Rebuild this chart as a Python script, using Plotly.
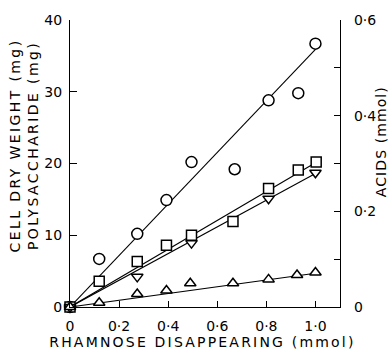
import plotly.graph_objects as go

# ---- data ----
x_circle = [0, 0.119, 0.274, 0.393, 0.495, 0.671, 0.809, 0.930, 1.0]
y_circle = [0, 6.7, 10.2, 14.9, 20.2, 19.2, 28.8, 29.8, 36.7]

x_square = [0, 0.119, 0.274, 0.393, 0.495, 0.664, 0.809, 0.930, 1.003]
y_square = [0, 3.6, 6.35, 8.6, 10.0, 11.9, 16.5, 19.1, 20.2]

x_tdown = [0, 0.274, 0.495, 0.809, 1.0]
y_tdown = [0, 4.2, 8.9, 15.1, 18.7]

x_tup = [0, 0.119, 0.274, 0.393, 0.490, 0.664, 0.809, 0.925, 1.0]
y_tup = [0, 0.6, 1.8, 2.3, 3.3, 3.3, 3.85, 4.45, 4.8]

# fitted lines (endpoints)
fit_x = [0, 1.0]
fit_circle = [0, 35.9]
fit_square = [0, 20.1]
fit_tdown = [0, 18.6]
fit_tup = [0, 4.7]

x_ticks = [0, 0.2, 0.4, 0.6, 0.8, 1.0]
x_ticktext = ["0", "0·2", "0·4", "0·6", "0·8", "1·0"]
y_ticks = [0, 10, 20, 30, 40]
y2_ticks = [0, 0.1, 0.2, 0.3, 0.4, 0.5, 0.6]
y2_ticktext = ["0", "", "0·2", "", "0·4", "", "0·6"]

FONT = "DejaVu Sans"

fig = go.Figure()

for fy in [fit_circle, fit_square, fit_tdown, fit_tup]:
    fig.add_trace(go.Scatter(x=fit_x, y=fy, mode="lines",
                             line=dict(color="black", width=1.1),
                             showlegend=False, hoverinfo="skip"))

def markers(x, y, symbol, size):
    fig.add_trace(go.Scatter(
        x=x, y=y, mode="markers", cliponaxis=False, showlegend=False,
        marker=dict(symbol=symbol, size=size, color="white",
                    line=dict(color="black", width=1.5))))

markers(x_circle, y_circle, "circle", 11)
markers(x_square, y_square, "square", 10)
markers(x_tdown, y_tdown, "triangle-down", 10)
markers(x_tup, y_tup, "triangle-up", 10)

# empty trace to attach the right axis
fig.add_trace(go.Scatter(x=[], y=[], yaxis="y2", showlegend=False))

axis_common = dict(showgrid=False, zeroline=False, showline=True,
                   linecolor="black", linewidth=1.3, ticks="inside",
                   tickcolor="black", tickwidth=1.3,
                   tickfont=dict(family=FONT, size=14, color="black"))

fig.update_layout(
    width=388, height=351,
    margin=dict(l=70, r=47, t=14, b=44),
    paper_bgcolor="white", plot_bgcolor="white",
    xaxis=dict(range=[0, 1.10], tickvals=x_ticks, ticktext=x_ticktext,
               ticklen=6, ticklabelstandoff=6, **axis_common),
    yaxis=dict(range=[0, 40], tickvals=y_ticks, ticklen=7,
               ticklabelstandoff=4, **axis_common),
    yaxis2=dict(range=[0, 0.6], tickvals=y2_ticks, ticktext=y2_ticktext,
                overlaying="y", side="right", ticklen=6,
                ticklabelstandoff=10, **axis_common),
    annotations=[
        dict(text="CELL DRY WEIGHT (mg)<br>POLYSACCHARIDE (mg)",
             textangle=-90, xref="paper", yref="paper", x=0, y=0.563,
             xshift=-46, xanchor="center", yanchor="middle", align="center",
             showarrow=False, font=dict(family=FONT, size=14, color="black")),
        dict(text="RHAMNOSE DISAPPEARING (mmol)",
             xref="paper", yref="paper", x=0.49, y=0, yshift=-35,
             xanchor="center", yanchor="middle", showarrow=False,
             font=dict(family=FONT, size=14, color="black")),
        dict(text="ACIDS (mmol)", textangle=-90,
             xref="paper", yref="paper", x=1, y=0.576, xshift=41,
             xanchor="center", yanchor="middle", showarrow=False,
             font=dict(family=FONT, size=14, color="black")),
    ],
)

post = """
var sp = ['2.4px', '2.2px', '1.1px'];
document.querySelectorAll('.annotation-text').forEach(function(e, i){
  e.style.letterSpacing = sp[i] || '1px';
});
"""

fig.write_html("out.html", post_script=post)
